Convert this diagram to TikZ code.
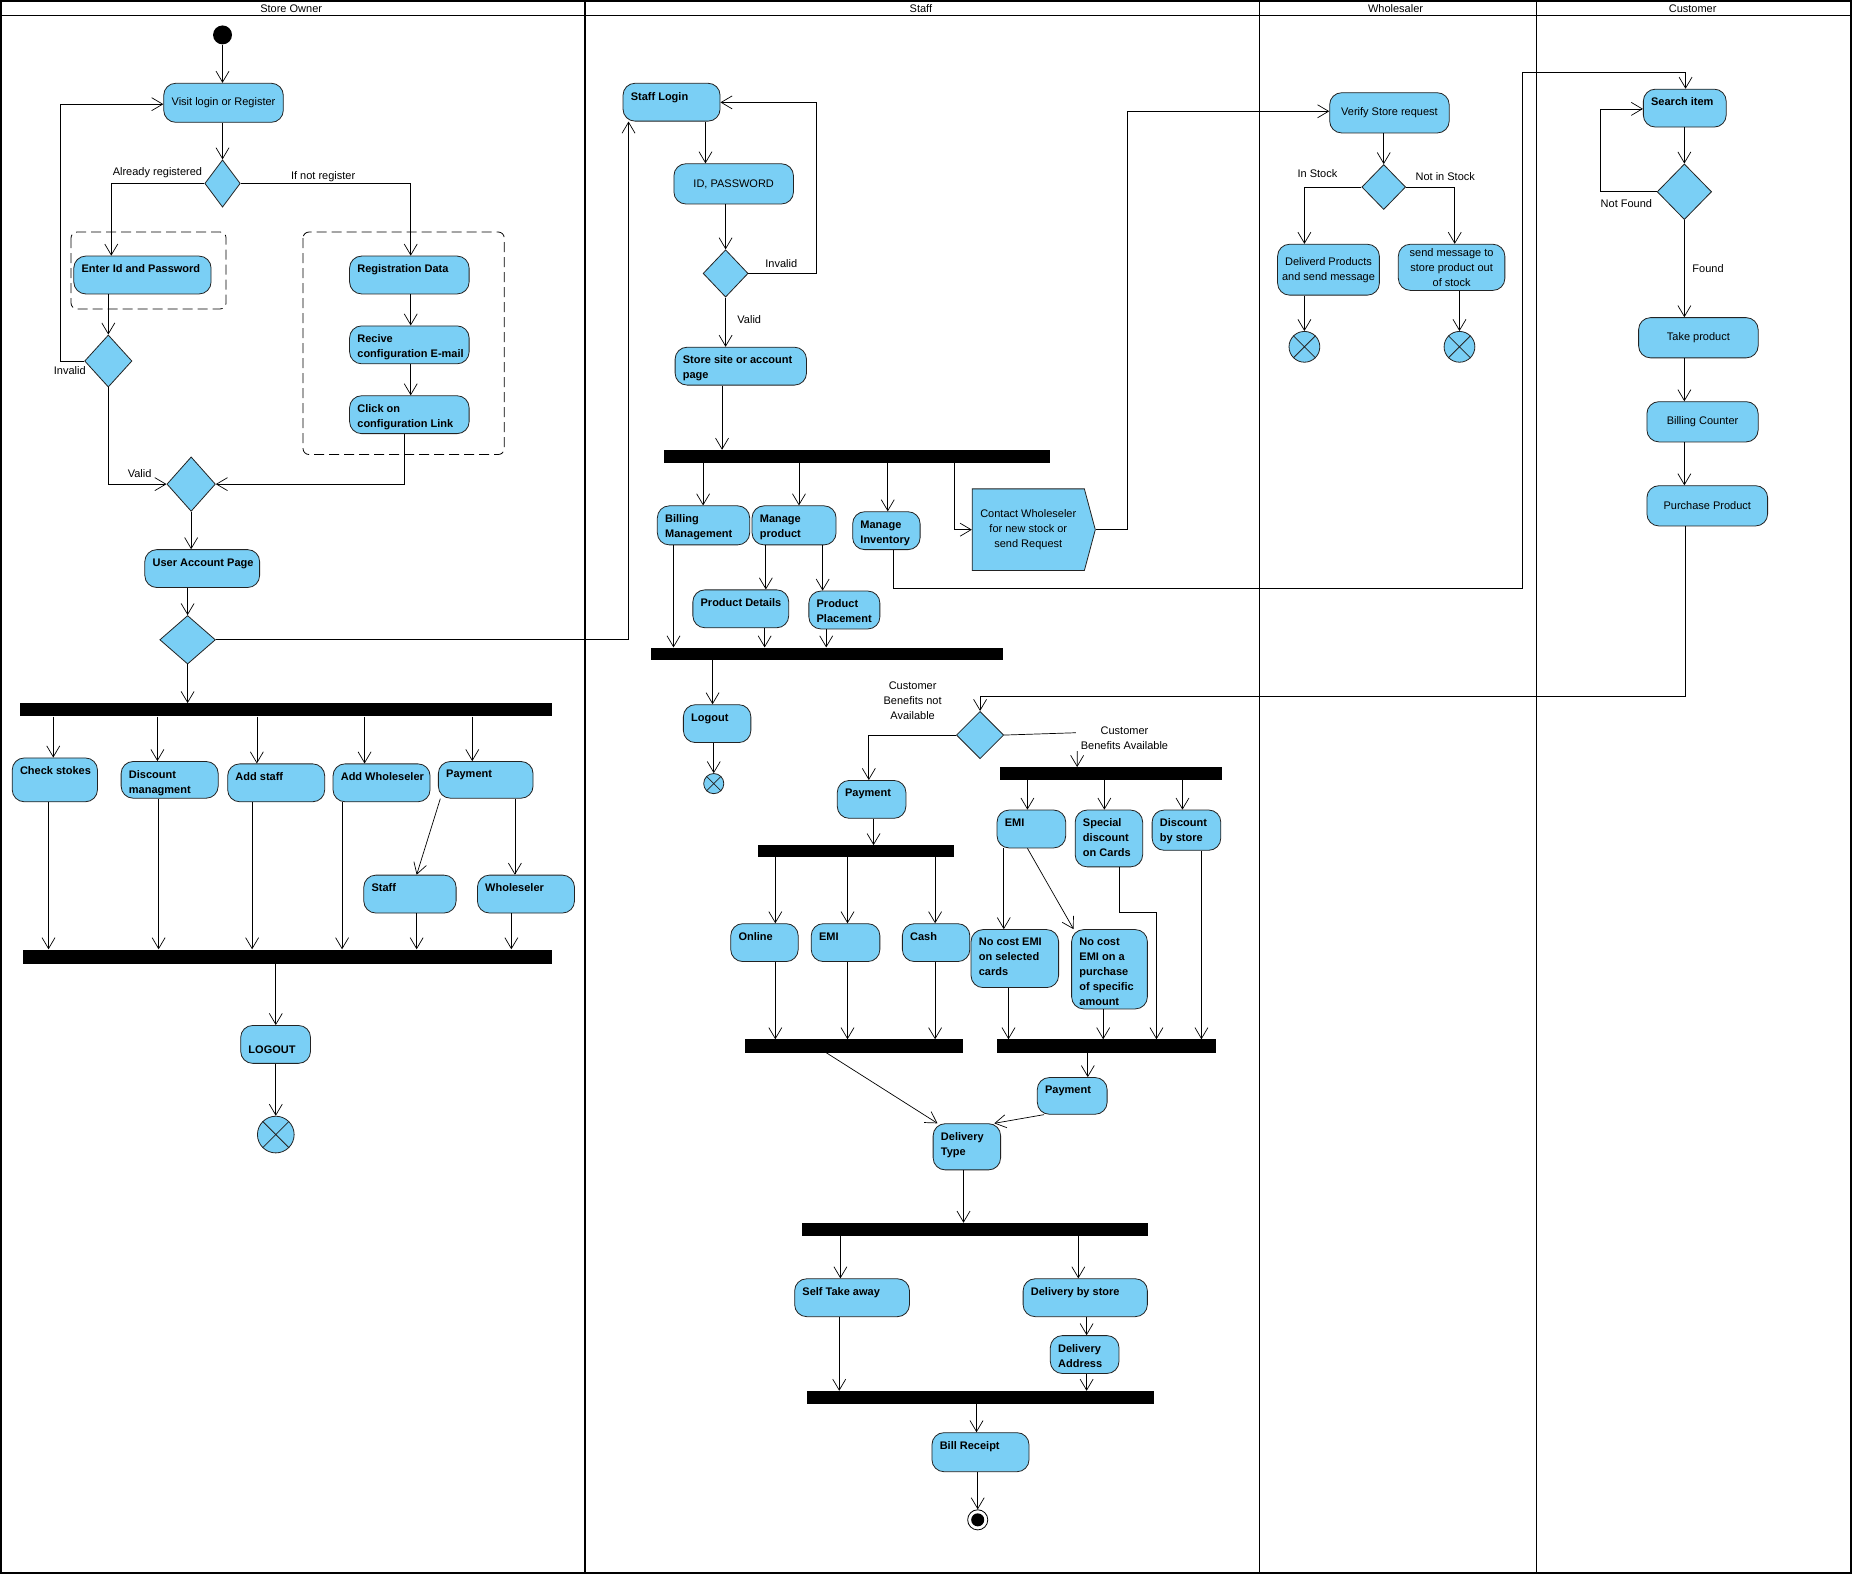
\documentclass[tikz,border=0pt]{standalone}
\usepackage{fontspec}
\setmainfont{Liberation Sans}
\usetikzlibrary{arrows.meta,shapes.geometric,shapes.symbols,calc}
\definecolor{actfill}{RGB}{122,207,245}
\definecolor{actline}{RGB}{35,35,35}
\newcommand\dgfont{\fontsize{11}{15}\selectfont}
\newcommand\ux{1.1837pt}
\tikzset{
  act/.style={draw=actline, fill=actfill, rounded corners=12pt, inner sep=0pt, line width=0.8pt, font=\dgfont},
  actlbl/.style={anchor=north west, inner sep=0pt, align=left, font=\dgfont\bfseries},
  barsty/.style={fill=black, draw=none, inner sep=0pt},
  decsty/.style={diamond, draw=actline, fill=actfill, inner sep=0pt, line width=0.8pt},
  ffsty/.style={circle, draw=actline, fill=actfill, inner sep=0pt, line width=0.8pt},
  arr/.style={line width=0.7pt, -{Straight Barb[length=11pt,width=13pt]}},
  lab/.style={font=\dgfont, inner sep=0pt, align=center},
  grp/.style={draw=black, dash pattern=on 10pt off 5pt, line width=0.8pt, rounded corners=6pt},
  lanesty/.style={draw=black, line width=1.6pt}
}
% name x1 y1 x2 y2 text : bold text at top left
\newcommand\actL[6]{%
  \node[act, anchor=north west, minimum width={(#4-#2)*\ux}, minimum height={(#5-#3)*\ux}] (#1) at (#2,#3) {};
  \node[actlbl] (#1t) at ([xshift=8pt,yshift=-9pt]#1.north west) {#6};}
% name x1 y1 x2 y2 text : regular centred text
\newcommand\actC[6]{%
  \node[act, anchor=north west, align=center, minimum width={(#4-#2)*\ux}, minimum height={(#5-#3)*\ux}] (#1) at (#2,#3) {#6};}
\newcommand\forkbar[5]{%
  \node[barsty, anchor=north west, minimum width={(#4-#2)*\ux}, minimum height={(#5-#3)*\ux}] (#1) at (#2,#3) {};}
\newcommand\dec[5]{%
  \node[decsty, minimum width={#4*\ux}, minimum height={#5*\ux}] (#1) at (#2,#3) {};}
\newcommand\ffin[4]{%
  \node[ffsty, minimum size={2*#4*\ux}] (#1) at (#2,#3) {};
  \draw[actline, line width=0.8pt] (#1.45) -- (#1.225) (#1.135) -- (#1.315);}

\begin{document}
\begin{tikzpicture}[x=1.1837pt,y=-1.1837pt]
\useasboundingbox (0,0) rectangle (1568,1333);
\fill[white] (0,0) rectangle (1568,1333);

% ---------------- swimlanes ----------------
\draw[lanesty] (1,1) rectangle (1564,1329);
\draw[lanesty] (1,13) -- (1564,13);
\draw[lanesty] (494,1) -- (494,1329);
\draw[lanesty] (1064,1) -- (1064,1329);
\draw[lanesty] (1298,1) -- (1298,1329);
\node[lab] (h1) at (246,7) {Store Owner};
\node[lab] (h2) at (778,7) {Staff};
\node[lab] (h3) at (1179,7) {Wholesaler};
\node[lab] (h4) at (1430,7) {Customer};

% ---------------- Store Owner nodes ----------------
\draw[grp] (60,196) rectangle (191,261);
\draw[grp] (256,196) rectangle (426,384);
\node[circle, fill=black, minimum size={16*\ux}, inner sep=0pt] (start) at (188,29.5) {};
\actC{visit}{138}{70}{239}{103}{Visit login or Register}
\dec{d1}{188}{155}{30}{40}
\actL{enter}{62}{216}{178}{248}{Enter Id and Password}
\actL{reg}{295}{216}{396}{248}{Registration Data}
\actL{recive}{295}{275}{396}{307}{Recive\\configuration E-mail}
\actL{click}{295}{334}{396}{366}{Click on\\configuration Link}
\dec{d2}{91.5}{305}{40}{44}
\dec{d3}{161.5}{409}{41}{46}
\actL{uap}{122}{464}{219}{496}{User Account Page}
\dec{d4}{158.5}{540.5}{47}{41}
\forkbar{bar1}{17}{594}{466}{605}
\actL{check}{10}{640}{82}{677}{Check stokes}
\actL{disc}{102}{643}{184}{674}{Discount\\managment}
\actL{addstaff}{192}{645}{274}{677}{Add staff}
\actL{addwh}{281}{645}{363}{677}{Add Wholeseler}
\actL{payso}{370}{643}{450}{674}{Payment}
\actL{staffso}{307}{739}{385}{771}{Staff}
\actL{whso}{403}{739}{485}{771}{Wholeseler}
\forkbar{bar2}{19}{802}{466}{814}
\node[act, anchor=north west, minimum width={59*\ux}, minimum height={32*\ux}] (logout) at (203,866) {};
\node[actlbl] (logoutt) at ([xshift=8pt,yshift=-21pt]logout.north west) {LOGOUT};
\ffin{ffso}{233}{958.5}{15.5}

\node[lab] (l1) at (133,146) {Already registered};
\node[lab] (l2) at (273,149) {If not register};
\node[lab] (l3) at (59,313) {Invalid};
\node[lab] (l4) at (118,400) {Valid};

% ---------------- Staff nodes ----------------
\actL{slogin}{526}{70}{608}{102}{Staff Login}
\actC{idpw}{569}{138}{670}{172}{ID, PASSWORD}
\dec{d5}{613}{231}{38}{40}
\actL{store}{570}{293}{681}{325}{Store site or account\\page}
\forkbar{bar3}{561}{380}{887}{391}
\actL{billing}{555}{427}{633}{460}{Billing\\Management}
\actL{mprod}{635}{427}{706}{460}{Manage\\product}
\actL{minv}{720}{432}{777}{464}{Manage\\Inventory}
\node[signal, signal to=east, signal pointer angle=150, draw=actline, fill=actfill, line width=0.8pt,
  minimum width={104*\ux}, minimum height={69*\ux}, inner sep=0pt, align=center, font=\dgfont, anchor=west]
  (contact) at (821,447.5) {Contact Wholeseler\\for new stock or\\send Request};
\actL{pdet}{585}{498}{666}{530}{Product Details}
\actL{pplace}{683}{499}{743}{531}{Product\\Placement}
\forkbar{bar4}{550}{547}{847}{557}
\actL{slogout}{577}{595}{634}{627}{Logout}
\ffin{ffs}{603}{662}{8.5}
\dec{d6}{828}{621}{40}{40}
\actL{pays}{707}{659}{765}{691}{Payment}
\forkbar{bar5}{845}{648}{1032}{659}
\actL{emic}{842}{684}{900}{716}{EMI}
\actL{special}{908}{684}{965}{732}{Special\\discount\\on Cards}
\actL{dstore}{973}{684}{1031}{718}{Discount\\by store}
\forkbar{bar6}{640}{714}{806}{724}
\actL{online}{617}{780}{674}{812}{Online}
\actL{emip}{685}{780}{743}{812}{EMI}
\actL{cash}{762}{780}{819}{812}{Cash}
\actL{nce1}{820}{785}{894}{834}{No cost EMI\\on selected\\cards}
\actL{nce2}{905}{785}{969}{852}{No cost\\EMI on a\\purchase\\of specific\\amount}
\forkbar{bar7}{629}{878}{813}{889}
\forkbar{bar8}{842}{878}{1027}{889}
\actL{pay2}{876}{910}{935}{941}{Payment}
\actL{dtype}{788}{949}{845}{988}{Delivery\\Type}
\forkbar{bar9}{677}{1033}{970}{1044}
\actL{self}{671}{1080}{768}{1112}{Self Take away}
\actL{dbs}{864}{1080}{969}{1112}{Delivery by store}
\actL{daddr}{887}{1128}{945}{1160}{Delivery\\Address}
\forkbar{bar10}{682}{1175}{975}{1186}
\actL{bill}{787}{1210}{869}{1243}{Bill Receipt}
\node[circle, draw=black, fill=white, line width=0.8pt, minimum size={17*\ux}, inner sep=0pt] (final) at (826,1284) {};
\node[circle, fill=black, minimum size={11*\ux}, inner sep=0pt] (finaldot) at (final.center) {};

\node[lab] (l5) at (660,223) {Invalid};
\node[lab] (l6) at (633,270) {Valid};
\node[lab] (l7) at (771,592) {Customer\\Benefits not\\Available};

% ---------------- Wholesaler nodes ----------------
\actC{verify}{1123}{78}{1224}{112}{Verify Store request}
\dec{d7}{1169}{158}{37}{38}
\actC{deliv}{1079}{206}{1165}{249}{Deliverd Products\\and send message}
\actC{sendm}{1181}{206}{1271}{245}{send message to\\store product out\\of stock}
\ffin{ffw1}{1102}{293}{13}
\ffin{ffw2}{1233}{293}{13}
\node[lab] (l9) at (1113,147) {In Stock};
\node[lab] (l10) at (1221,149) {Not in Stock};

% ---------------- Customer nodes ----------------
\actL{search}{1388}{75}{1458}{107}{Search item}
\dec{d8}{1423}{162}{46}{47}
\actC{take}{1384}{268}{1485}{302}{Take product}
\actC{bcount}{1391}{339}{1485}{373}{Billing Counter}
\actC{purch}{1391}{410}{1493}{444}{Purchase Product}
\node[lab] (l11) at (1374,172) {Not Found};
\node[lab] (l12) at (1443,227) {Found};

% ================= connectors =================
% Store Owner
\draw[arr] (start.south) -- (visit.north -| start.south);
\draw[arr] (visit.south -| d1.north) -- (d1.north);
\draw[arr] (d1.west) -| (enter.north -| 94,0);
\draw[arr] (d1.east) -| (reg.north -| 347,0);
\draw[arr] (reg.south -| 347,0) -- (recive.north -| 347,0);
\draw[arr] (recive.south -| 347,0) -- (click.north -| 347,0);
\draw[arr] (enter.south -| d2.north) -- (d2.north);
\draw[arr] (d2.west) -- (d2.west -| 51,0) |- (visit.west |- 0,88);
\draw[arr] (d2.south) |- (d3.west);
\draw[arr] (click.south -| 342,0) |- (d3.east);
\draw[arr] (d3.south) -- (d3.south |- uap.north);
\draw[arr] (uap.south -| d4.north) -- (d4.north);
\draw[arr] (d4.east) -| (slogin.south -| 531,0);
\draw[arr] (d4.south) -- (d4.south |- bar1.north);
\draw[arr] (bar1.south -| 45,0) -- (check.north -| 45,0);
\draw[arr] (bar1.south -| 133,0) -- (disc.north -| 133,0);
\draw[arr] (bar1.south -| 217,0) -- (addstaff.north -| 217,0);
\draw[arr] (bar1.south -| 308,0) -- (addwh.north -| 308,0);
\draw[arr] (bar1.south -| 399,0) -- (payso.north -| 399,0);
\draw[arr] (payso.south -| 372,0) -- (staffso.north -| 352,0);
\draw[arr] (payso.south -| 435,0) -- (whso.north -| 435,0);
\draw[arr] (check.south -| 41,0) -- (bar2.north -| 41,0);
\draw[arr] (disc.south -| 134,0) -- (bar2.north -| 134,0);
\draw[arr] (addstaff.south -| 213,0) -- (bar2.north -| 213,0);
\draw[arr] (addwh.south -| 289,0) -- (bar2.north -| 289,0);
\draw[arr] (staffso.south -| 352,0) -- (bar2.north -| 352,0);
\draw[arr] (whso.south -| 432,0) -- (bar2.north -| 432,0);
\draw[arr] (bar2.south -| 233,0) -- (logout.north -| 233,0);
\draw[arr] (logout.south -| 233,0) -- (ffso.north);

% Staff
\draw[arr] (slogin.south -| 596,0) -- (idpw.north -| 596,0);
\draw[arr] (idpw.south -| d5.north) -- (d5.north);
\draw[arr] (d5.east) -- (d5.east -| 690,0) |- (slogin.east |- 0,86.5);
\draw[arr] (d5.south) -- (d5.south |- store.north);
\draw[arr] (store.south -| 610,0) -- (bar3.north -| 610,0);
\draw[arr] (bar3.south -| 594,0) -- (billing.north -| 594,0);
\draw[arr] (bar3.south -| 675,0) -- (mprod.north -| 675,0);
\draw[arr] (bar3.south -| 750,0) -- (minv.north -| 750,0);
\draw[arr] (bar3.south -| 806,0) |- (contact.west);
\draw[arr] (contact.east) -- (contact.east -| 952,0) |- (verify.west |- 0,94);
\draw[arr] (minv.south -| 755,0) |- (1286,497) |- (1424,61) -- (search.north -| 1424,0);
\draw[arr] (billing.south -| 569,0) -- (bar4.north -| 569,0);
\draw[arr] (mprod.south -| 647,0) -- (pdet.north -| 647,0);
\draw[arr] (mprod.south -| 695,0) -- (pplace.north -| 695,0);
\draw[arr] (pdet.south -| 646,0) -- (bar4.north -| 646,0);
\draw[arr] (pplace.south -| 698,0) -- (bar4.north -| 698,0);
\draw[arr] (bar4.south -| 602,0) -- (slogout.north -| 602,0);
\draw[arr] (slogout.south -| ffs.north) -- (ffs.north);
\draw[arr] (purch.south -| 1424,0) -- (1424,588) -| (d6.north);
\draw[arr] (d6.west) -| (pays.north -| 734,0);
\draw[arr] (d6.east) -- (910,619) -- (bar5.north -| 910,0);
\node[lab, fill=white, inner xsep=5pt, inner ysep=1pt] (l8) at (950,624) {Customer\\Benefits Available};
\draw[arr] (bar5.south -| 868,0) -- (emic.north -| 868,0);
\draw[arr] (bar5.south -| 933,0) -- (special.north -| 933,0);
\draw[arr] (bar5.south -| 999,0) -- (dstore.north -| 999,0);
\draw[arr] (pays.south -| 738,0) -- (bar6.north -| 738,0);
\draw[arr] (bar6.south -| 655,0) -- (online.north -| 655,0);
\draw[arr] (bar6.south -| 716,0) -- (emip.north -| 716,0);
\draw[arr] (bar6.south -| 790,0) -- (cash.north -| 790,0);
\draw[arr] (online.south -| 655,0) -- (bar7.north -| 655,0);
\draw[arr] (emip.south -| 716,0) -- (bar7.north -| 716,0);
\draw[arr] (cash.south -| 790,0) -- (bar7.north -| 790,0);
\draw[arr] (emic.south -| 848,0) -- (nce1.north -| 848,0);
\draw[arr] (emic.south -| 868,0) -- (nce2.north -| 907,0);
\draw[arr] (nce1.south -| 852,0) -- (bar8.north -| 852,0);
\draw[arr] (nce2.south -| 932,0) -- (bar8.north -| 932,0);
\draw[arr] (special.south -| 946,0) -- (946,771) -| (bar8.north -| 977,0);
\draw[arr] (dstore.south -| 1015,0) -- (bar8.north -| 1015,0);
\draw[arr] (bar7.south -| 698,0) -- (dtype.north -| 792,0);
\draw[arr] (bar8.south -| 919,0) -- (pay2.north -| 919,0);
\draw[arr] (pay2.south -| 882,0) -- (dtype.north -| 840,0);
\draw[arr] (dtype.south -| 814,0) -- (bar9.north -| 814,0);
\draw[arr] (bar9.south -| 710,0) -- (self.north -| 710,0);
\draw[arr] (bar9.south -| 911,0) -- (dbs.north -| 911,0);
\draw[arr] (dbs.south -| 918,0) -- (daddr.north -| 918,0);
\draw[arr] (self.south -| 709,0) -- (bar10.north -| 709,0);
\draw[arr] (daddr.south -| 918,0) -- (bar10.north -| 918,0);
\draw[arr] (bar10.south -| 825,0) -- (bill.north -| 825,0);
\draw[arr] (bill.south -| final.north) -- (final.north);

% Wholesaler
\draw[arr] (verify.south -| d7.north) -- (d7.north);
\draw[arr] (d7.west) -| (deliv.north -| 1102,0);
\draw[arr] (d7.east) -| (sendm.north -| 1229,0);
\draw[arr] (deliv.south -| ffw1.north) -- (ffw1.north);
\draw[arr] (sendm.south -| ffw2.north) -- (ffw2.north);

% Customer
\draw[arr] (search.south -| d8.north) -- (d8.north);
\draw[arr] (d8.west) -- (d8.west -| 1352,0) |- (search.west |- 0,92);
\draw[arr] (d8.south) -- (d8.south |- take.north);
\draw[arr] (take.south -| 1423,0) -- (bcount.north -| 1423,0);
\draw[arr] (bcount.south -| 1423,0) -- (purch.north -| 1423,0);
\end{tikzpicture}
\end{document}
